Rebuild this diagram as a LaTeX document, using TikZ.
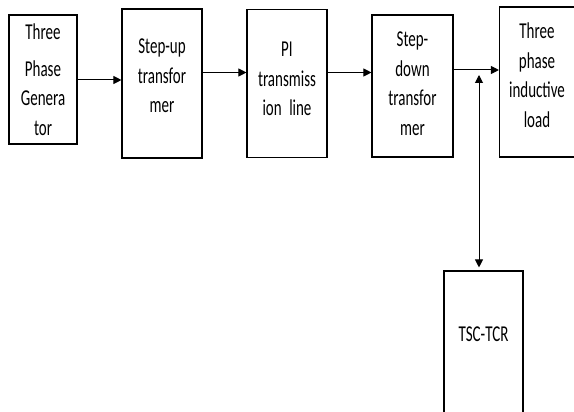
\documentclass[tikz,border=0pt]{standalone}
\usepackage{fontspec}
\setmainfont[FakeStretch=0.66]{Carlito}
\usetikzlibrary{arrows.meta}
\newcommand\blkfont{\fontsize{22.7}{29.5}\selectfont\spaceskip=3.6pt plus 1pt\relax}
\begin{document}
\begin{tikzpicture}[x=1pt,y=-1pt,
  blk/.style={draw=black,line width=1.1pt,rectangle,inner sep=0pt,align=center,
    font=\blkfont},
  down by/.style={execute at begin node={\vspace*{#1}}},
  up by/.style={execute at end node={\endgraf\vspace*{#1}}},
  arr/.style={line width=1pt,-{Triangle[length=8pt,width=8pt]}},
  darr/.style={line width=1pt,{Triangle[length=8pt,width=8pt]}-{Triangle[length=8pt,width=8pt]}}]
\useasboundingbox (0,0) rectangle (574,412);
\node[blk,text width=68pt,minimum height=129pt,down by=7pt] (gen) at (43,79.5) {Three\\Phase\\Genera\\tor};
\node[blk,text width=80pt,minimum height=149pt,up by=15pt] (up) at (162,83.5) {Step-up\\transfor\\mer};
\node[blk,text width=80pt,minimum height=148pt,up by=9pt] (pi) at (287,83.5) {PI\\transmiss\\ion line};
\node[blk,text width=81pt,minimum height=142pt,up by=5pt] (down) at (412.5,86) {Step-\\down\\transfor\\mer};
\node[blk,text width=75pt,minimum height=150pt,up by=14pt] (load) at (537,82) {Three\\phase\\inductive\\load};
\node[blk,font=\fontsize{22.7}{29.5}\selectfont,minimum width=79pt,minimum height=146pt,text depth=19pt] (tsc) at (483.5,344) {TSC-TCR};
\draw[arr] ([yshift=-0.5pt]gen.east) -- ([yshift=-0.5pt]gen.east -| up.west);
\draw[arr] ([yshift=11pt]up.east) -- ([yshift=11pt]up.east -| pi.west);
\draw[arr] ([yshift=11pt]pi.east) -- ([yshift=11pt]pi.east -| down.west);
\draw[arr] ([yshift=16pt]down.east) -- ([yshift=16pt]down.east -| load.west);
\coordinate (j) at (479,70);
\draw[darr] ([yshift=-5pt]j) -- ([yshift=3pt]tsc.north -| j);
\end{tikzpicture}
\end{document}
